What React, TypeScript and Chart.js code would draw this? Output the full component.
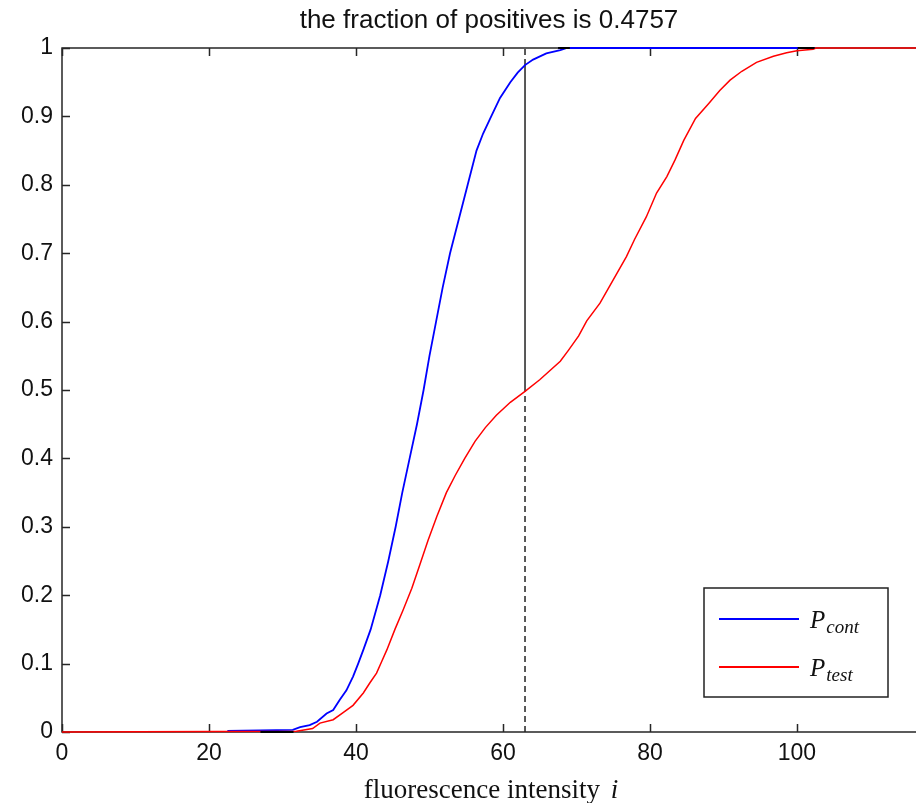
import React, { useEffect, useRef } from "react";
import { Chart, registerables } from "chart.js";

Chart.register(...registerables);

// ---- data ----
const titleText = "the fraction of positives is 0.4757";
const xAxisLabel = "fluorescence intensity ";
const xAxisItalic = "i";

const xTickValues = [0, 20, 40, 60, 80, 100];
const xTickLabels = ["0", "20", "40", "60", "80", "100"];
const yTickValues = [0, 0.1, 0.2, 0.3, 0.4, 0.5, 0.6, 0.7, 0.8, 0.9, 1];
const yTickLabels = ["0", "0.1", "0.2", "0.3", "0.4", "0.5", "0.6", "0.7", "0.8", "0.9", "1"];

const xMin = 0;
const xMax = 116.2;

const contX = [22.5, 31.4, 32.4, 33.7, 34.7, 36.0, 36.9, 37.8, 38.7, 39.6, 40.3, 41.0, 42.0, 43.3, 44.4, 45.4, 46.3, 47.3, 48.3, 49.2, 50.0, 50.9, 51.8, 52.8, 54.0, 55.2, 56.4, 57.3, 58.4, 59.6, 61.0, 62.0, 63.0, 64.1, 65.9, 67.8, 68.7, 102.4];
const contY = [0.0015, 0.003, 0.007, 0.01, 0.015, 0.027, 0.032, 0.047, 0.061, 0.081, 0.1, 0.12, 0.15, 0.2, 0.25, 0.3, 0.35, 0.4, 0.45, 0.5, 0.55, 0.6, 0.65, 0.7, 0.75, 0.8, 0.85, 0.875, 0.9, 0.927, 0.95, 0.964, 0.975, 0.983, 0.992, 0.997, 1.0, 1.0];

const testX = [0, 31.9, 34.1, 35.1, 36.9, 38.2, 39.6, 41.0, 41.9, 42.8, 43.5, 44.2, 45.3, 46.4, 47.6, 48.7, 49.8, 51.0, 52.3, 53.5, 54.8, 56.2, 57.6, 59.1, 61.0, 63.0, 65.0, 67.8, 68.9, 70.3, 71.4, 73.2, 75.0, 76.8, 77.9, 79.5, 80.9, 82.3, 83.4, 84.6, 86.2, 88.0, 89.5, 90.9, 92.5, 94.5, 96.8, 98.6, 100.0, 102.2, 102.6, 120];
const testY = [0, 0.001, 0.005, 0.013, 0.018, 0.028, 0.039, 0.057, 0.072, 0.086, 0.103, 0.12, 0.15, 0.178, 0.21, 0.245, 0.28, 0.315, 0.35, 0.375, 0.4, 0.425, 0.445, 0.463, 0.482, 0.498, 0.515, 0.542, 0.558, 0.579, 0.601, 0.627, 0.661, 0.695, 0.72, 0.753, 0.788, 0.812, 0.836, 0.865, 0.897, 0.919, 0.938, 0.953, 0.966, 0.979, 0.988, 0.993, 0.996, 0.998, 1.0, 1.0];

// short black overlap segments (x from, x to, y)
const blackSegX = [27, 31.5, null, 67.5, 69.1, null, 100.1, 102.4];
const blackSegY = [0, 0, null, 1, 1, null, 1, 1];

// threshold line
const thresholdX = 63;
const thresholdLow = 0.498;
const thresholdHigh = 0.975;

const legendLabels = [
  { main: "P", sub: "cont", color: "#0000ff" },
  { main: "P", sub: "test", color: "#ff0000" },
];

const zip = (xs: (number | null)[], ys: (number | null)[]) =>
  xs.map((x, i) => ({ x: x as any, y: ys[i] as any }));

export default function App() {
  const ref = useRef<HTMLCanvasElement | null>(null);

  useEffect(() => {
    const canvas = ref.current!;
    const framePlugin = {
      id: "frame",
      beforeDatasetsDraw(chart: any) {
        const { ctx, chartArea } = chart;
        const xs = chart.scales.x;
        const ys = chart.scales.y;
        const { left, right, top, bottom } = chartArea;
        ctx.save();
        ctx.strokeStyle = "#262626";
        ctx.lineWidth = 1.5;
        ctx.beginPath();
        ctx.moveTo(right + 5, top);
        ctx.lineTo(left, top);
        ctx.lineTo(left, bottom);
        ctx.lineTo(right + 5, bottom);
        ctx.stroke();
        const tl = 8;
        ctx.beginPath();
        xTickValues.forEach((v) => {
          const px = Math.round(xs.getPixelForValue(v)) + 0.5;
          ctx.moveTo(px, bottom);
          ctx.lineTo(px, bottom - tl);
          ctx.moveTo(px, top);
          ctx.lineTo(px, top + tl);
        });
        yTickValues.forEach((v) => {
          const py = Math.round(ys.getPixelForValue(v)) + 0.5;
          ctx.moveTo(left, py);
          ctx.lineTo(left + tl, py);
        });
        ctx.stroke();
        ctx.restore();
      },
      afterDraw(chart: any) {
        const { ctx, chartArea } = chart;
        const { left, right } = chartArea;
        ctx.save();
        // title
        ctx.fillStyle = "#111";
        ctx.font = "26px 'Liberation Sans', Arial, sans-serif";
        ctx.textAlign = "center";
        ctx.textBaseline = "middle";
        ctx.fillText(titleText, (left + right) / 2, 21);
        // x axis title
        const serif = "'Liberation Serif', 'Times New Roman', serif";
        ctx.font = `27px ${serif}`;
        const w1 = ctx.measureText(xAxisLabel).width;
        ctx.font = `italic 27px ${serif}`;
        const w2 = ctx.measureText(xAxisItalic).width;
        const total = w1 + w2 + 4;
        const cx = 491;
        const startX = cx - total / 2;
        ctx.textAlign = "left";
        ctx.textBaseline = "alphabetic";
        ctx.font = `27px ${serif}`;
        ctx.fillText(xAxisLabel, startX, 798);
        ctx.font = `italic 27px ${serif}`;
        ctx.fillText(xAxisItalic, startX + w1 + 4, 798);
        // legend
        const lx = 704, ly = 588, lw = 184, lh = 109;
        ctx.fillStyle = "#fff";
        ctx.fillRect(lx, ly, lw, lh);
        ctx.strokeStyle = "#222";
        ctx.lineWidth = 1.5;
        ctx.strokeRect(lx, ly, lw, lh);
        legendLabels.forEach((it, i) => {
          const yy = 619 + i * 48;
          ctx.strokeStyle = it.color;
          ctx.lineWidth = 1.8;
          ctx.beginPath();
          ctx.moveTo(719, yy);
          ctx.lineTo(799, yy);
          ctx.stroke();
          ctx.fillStyle = "#111";
          ctx.font = `italic 25px ${serif}`;
          ctx.fillText(it.main, 810, yy + 9);
          const pw = ctx.measureText(it.main).width;
          ctx.font = `italic 19px ${serif}`;
          ctx.fillText(it.sub, 810 + pw + 1, yy + 14);
        });
        ctx.restore();
      },
    };

    const chart = new Chart(canvas, {
      type: "line",
      data: {
        datasets: [
          {
            label: "black",
            data: zip(blackSegX, blackSegY),
            borderColor: "#000",
            borderWidth: 2,
            pointRadius: 0,
            spanGaps: false,
            clip: 4 as any,
          },
          {
            label: "P_test",
            data: zip(testX, testY),
            borderColor: "#ff0000",
            borderWidth: 1.5,
            pointRadius: 0,
            tension: 0,
            clip: 4 as any,
          },
          {
            label: "P_cont",
            data: zip(contX, contY),
            borderColor: "#0000ff",
            borderWidth: 1.8,
            pointRadius: 0,
            tension: 0,
            clip: 4 as any,
          },
          {
            label: "dash low",
            data: zip([thresholdX, thresholdX], [0, thresholdLow]),
            borderColor: "#222",
            borderWidth: 1.5,
            borderDash: [6, 4],
            pointRadius: 0,
          },
          {
            label: "solid",
            data: zip([thresholdX, thresholdX], [thresholdLow, thresholdHigh]),
            borderColor: "#222",
            borderWidth: 1.5,
            pointRadius: 0,
          },
          {
            label: "dash high",
            data: zip([thresholdX, thresholdX], [thresholdHigh, 1]),
            borderColor: "#222",
            borderWidth: 1.5,
            borderDash: [6, 4],
            pointRadius: 0,
          },
        ],
      },
      options: {
        animation: false,
        responsive: false,
        devicePixelRatio: 1,
        layout: { padding: { top: 48, left: 0, right: 0, bottom: 0 } },
        plugins: {
          legend: { display: false },
          title: { display: false },
          tooltip: { enabled: false },
        },
        scales: {
          x: {
            type: "linear",
            min: xMin,
            max: xMax,
            grid: { display: false, drawTicks: false },
            border: { display: false },
            afterFit: (s: any) => {
              s.height = 71;
            },
            afterBuildTicks: (s: any) => {
              s.ticks = xTickValues.map((v) => ({ value: v }));
            },
            ticks: {
              autoSkip: false,
              maxRotation: 0,
              padding: 8,
              color: "#111",
              font: { family: "'Liberation Sans', Arial, sans-serif", size: 23 },
              callback: (v: any) => {
                const i = xTickValues.indexOf(Number(v));
                return i >= 0 ? xTickLabels[i] : "";
              },
            },
          },
          y: {
            type: "linear",
            min: 0,
            max: 1,
            grid: { display: false, drawTicks: false },
            border: { display: false },
            afterFit: (s: any) => {
              s.width = 62;
            },
            afterBuildTicks: (s: any) => {
              s.ticks = yTickValues.map((v) => ({ value: v }));
            },
            ticks: {
              autoSkip: false,
              padding: 9,
              color: "#111",
              font: { family: "'Liberation Sans', Arial, sans-serif", size: 23 },
              callback: (v: any) => {
                const i = yTickValues.findIndex((t) => Math.abs(t - Number(v)) < 1e-9);
                return i >= 0 ? yTickLabels[i] : "";
              },
            },
          },
        },
      },
      plugins: [framePlugin as any],
    });
    return () => chart.destroy();
  }, []);

  return (
    <div style={{ position: "absolute", left: 0, top: 0, width: 916, height: 803, background: "#fff" }}>
      <canvas ref={ref} width={916} height={803} style={{ display: "block", width: 916, height: 803 }} />
    </div>
  );
}
